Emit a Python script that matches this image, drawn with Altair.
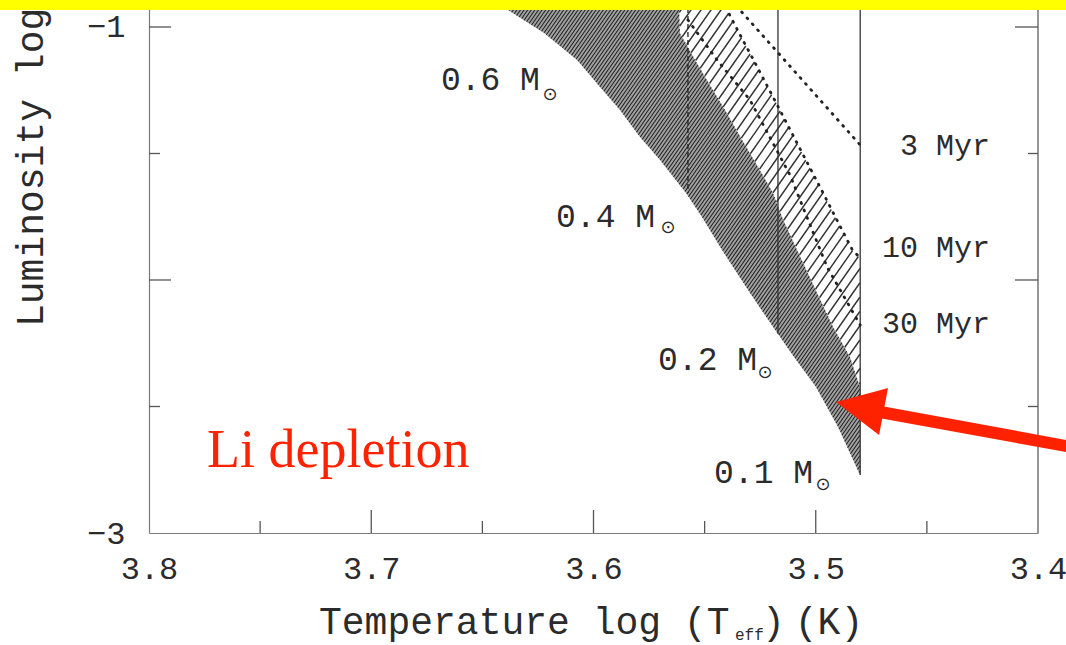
import numpy as np
import pandas as pd
import altair as alt

# ---------------- layout ----------------
W, H = 889, 533
Y_BOT, Y_TOP = -3.0, -0.8933
MONO = "Liberation Mono"
INK = "#2b2b2b"
RED = "#ff2200"

# ---------------- data (log Teff, log L) ----------------
# dark band (Li-depleted zone): rows of log L with left / right log Teff edges
dark_y = [-0.8933, -0.9328, -1.0237, -1.1304, -1.2372, -1.3281, -1.4348, -1.5257,
          -1.6561, -1.7510, -1.8814, -2.0514, -2.1858, -2.3043, -2.4229, -2.5810, -2.7708]
dark_left = [3.6443, 3.6385, 3.6223, 3.6074, 3.5971, 3.5881, 3.5791, 3.5701,
             3.5584, 3.5512, 3.5422, 3.5296, 3.5192, 3.5098, 3.4999, 3.4900, 3.4801]
dark_right = [3.5620, 3.5615, 3.5611, 3.5543, 3.5471, 3.5408, 3.5339, 3.5278,
              3.5192, 3.5152, 3.5084, 3.4994, 3.4922, 3.4846, 3.4801, 3.4801, 3.4800]

# light hatched band
light_y = [-0.8933, -0.9328, -1.0237, -1.1304, -1.2885, -1.4862, -1.6561,
           -1.7510, -1.8814, -1.9130, -2.0514, -2.1858, -2.3043, -2.4229]
light_left = [3.5620, 3.5615, 3.5611, 3.5543, 3.5435, 3.5305, 3.5192,
              3.5152, 3.5084, 3.5068, 3.4994, 3.4922, 3.4846, 3.4801]
light_right = [3.5422, 3.5399, 3.5345, 3.5280, 3.5185, 3.5068, 3.4967,
               3.4912, 3.4835, 3.4801, 3.4801, 3.4801, 3.4801, 3.4801]

# vertical evolutionary tracks
track_x = [3.5575, 3.5170, 3.4800]
track_top = [-0.8933, -0.8933, -0.8933]
track_bot = [-1.6561, -2.2134, -2.7708]
track_dash = ["dashed", "solid", "solid"]

# isochrones (dotted)
iso3_x = [3.5381, 3.4800]
iso3_y = [-0.8933, -1.4664]
iso10_x = [3.5422, 3.5399, 3.5345, 3.5280, 3.5185, 3.5068, 3.4967, 3.4912, 3.4835, 3.4800]
iso10_y = [-0.8933, -0.9328, -1.0237, -1.1304, -1.2885, -1.4862, -1.6561, -1.7510, -1.8814, -1.9130]
iso30_x = [3.5575, 3.5444, 3.5296, 3.5116, 3.4949, 3.4800]
iso30_y = [-0.9723, -1.1304, -1.2885, -1.5850, -1.9486, -2.1779]

# labels
mass_text = ["0.6 M", "0.4 M", "0.2 M", "0.1 M"]
mass_x = [3.6241, 3.5723, 3.5264, 3.5012]
mass_y = [-1.249, -1.7905, -2.3557, -2.8024]
sun_x = [3.6196, 3.5665, 3.5228, 3.4967]
sun_y = [-1.269, -1.795, -2.3676, -2.8103]

age_text = ["3 Myr", "10 Myr", "30 Myr"]
age_x = [3.4216, 3.4216, 3.4216]
age_y = [-1.506, -1.909, -2.2095]

li_text = ["Li depletion"]
li_x = [3.7739]
li_y = [-2.739]

# red arrow
head_x = [3.4909, 3.4715, 3.4675]
head_y = [-2.4822, -2.4364, -2.4269]
head_y2 = [-2.4822, -2.6126, -2.4269]
shaft_x = [3.4711]
shaft_y = [-2.5217]
shaft_x2 = [3.3834]
shaft_y2 = [-2.6625]

# ticks
x_major = [3.7, 3.6, 3.5]
x_minor = [3.75, 3.65, 3.55, 3.45]
y_major = [-1.0, -2.0]
y_minor = [-1.5, -2.5]
x_labels = [3.8, 3.7, 3.6, 3.5, 3.4]
y_labels = [-3, -2, -1]

# ---------------- helpers ----------------
def to_px_x(v):
    return (3.8 - v) / 0.4 * W


def to_px_y(v):
    return (Y_TOP - v) / (Y_TOP - Y_BOT) * H


def from_px_x(p):
    return 3.8 - p * 0.4 / W


def from_px_y(p):
    return Y_TOP - p * (Y_TOP - Y_BOT) / H


def hatch(ys, xl, xr, spacing, angle_deg):
    """diagonal hatch segments clipped to a band given by rows (style only)."""
    py = np.array([to_px_y(v) for v in ys])
    pl = np.array([to_px_x(v) for v in xl])
    pr = np.array([to_px_x(v) for v in xr])
    o = np.argsort(py)
    py, pl, pr = py[o], pl[o], pr[o]
    m = 1.0 / np.tan(np.radians(angle_deg))
    s = np.arange(py.min(), py.max() + 0.001, 0.25)
    L = np.interp(s, py, pl)
    R = np.interp(s, py, pr)
    cmin = float(np.min(L + m * s))
    cmax = float(np.max(R + m * s))
    rows = []
    for c in np.arange(cmin, cmax, spacing):
        xs = c - m * s
        idx = np.where((xs >= L) & (xs <= R))[0]
        if len(idx) < 2:
            continue
        br = np.where(np.diff(idx) > 1)[0]
        starts = np.r_[idx[0], idx[br + 1]]
        ends = np.r_[idx[br], idx[-1]]
        for a, b in zip(starts, ends):
            if b - a < 1:
                continue
            rows.append({"x1": from_px_x(xs[a]), "y1": from_px_y(s[a]),
                         "x2": from_px_x(xs[b]), "y2": from_px_y(s[b])})
    return pd.DataFrame(rows)


xscale = alt.Scale(domain=[3.4, 3.8], reverse=True, nice=False, zero=False)
yscale = alt.Scale(domain=[Y_BOT, Y_TOP], nice=False, zero=False)
xaxis = alt.Axis(values=x_labels, format=".1f", ticks=False, tickSize=0, grid=False,
                 domain=True, domainColor="#7a7a7a", domainWidth=1.2,
                 labelFont=MONO, labelFontSize=32, labelColor=INK, labelPadding=20,
                 labelFlush=False, labelOverlap=False, title="")
yaxis = alt.Axis(values=y_labels, format="d", ticks=False, tickSize=0, grid=False,
                 domain=True, domainColor="#7a7a7a", domainWidth=1.2,
                 labelFont=MONO, labelFontSize=32, labelColor=INK, labelPadding=24,
                 labelOverlap=False, title="")


def X(f):
    return alt.X(f, type="quantitative", scale=xscale, axis=xaxis)


def Y(f):
    return alt.Y(f, type="quantitative", scale=yscale, axis=yaxis)


one = pd.DataFrame({"a": [0]})
layers = []

# light band
light_df = pd.DataFrame({"y": light_y, "xl": light_left, "xr": light_right})
layers.append(alt.Chart(light_df).mark_area(orient="horizontal", color="white", opacity=1)
              .encode(y=Y("y"), x=X("xl"), x2=alt.X2("xr")))
layers.append(alt.Chart(hatch(light_y, light_left, light_right, 10.0, 55))
              .mark_rule(color="#333333", strokeWidth=1.4)
              .encode(x=X("x1"), y=Y("y1"), x2=alt.X2("x2"), y2=alt.Y2("y2")))

# dark band
dark_df = pd.DataFrame({"y": dark_y, "xl": dark_left, "xr": dark_right})
layers.append(alt.Chart(dark_df).mark_area(orient="horizontal", color="#a2a2a2", opacity=1)
              .encode(y=Y("y"), x=X("xl"), x2=alt.X2("xr")))
layers.append(alt.Chart(hatch(dark_y, dark_left, dark_right, 3.6, 55))
              .mark_rule(color="#222222", strokeWidth=1.1)
              .encode(x=X("x1"), y=Y("y1"), x2=alt.X2("x2"), y2=alt.Y2("y2")))

# tracks
tr = pd.DataFrame({"x": track_x, "y": track_top, "y2": track_bot, "d": track_dash})
layers.append(alt.Chart(tr[tr.d == "solid"]).mark_rule(color="#333333", strokeWidth=1.3)
              .encode(x=X("x"), y=Y("y"), y2=alt.Y2("y2")))
layers.append(alt.Chart(tr[tr.d == "dashed"]).mark_rule(color="#222222", strokeWidth=1.3,
                                                       strokeDash=[5, 3])
              .encode(x=X("x"), y=Y("y"), y2=alt.Y2("y2")))

# isochrones
iso = pd.concat([
    pd.DataFrame({"name": "3", "x": iso3_x, "y": iso3_y, "i": range(len(iso3_x))}),
    pd.DataFrame({"name": "10", "x": iso10_x, "y": iso10_y, "i": range(len(iso10_x))}),
    pd.DataFrame({"name": "30", "x": iso30_x, "y": iso30_y, "i": range(len(iso30_x))}),
])
layers.append(alt.Chart(iso).mark_line(color="#222222", strokeWidth=2.8, strokeDash=[1, 7],
                                       strokeCap="round")
              .encode(x=X("x"), y=Y("y"), detail="name:N", order="i:Q"))

# frame: right border and inward ticks
layers.append(alt.Chart(one).mark_rule(color="#6a6a6a", strokeWidth=1.4)
              .encode(x=alt.value(W), y=alt.value(0), y2=alt.value(H)))
tick_color = "#555555"
layers.append(alt.Chart(pd.DataFrame({"v": x_major})).mark_rule(color=tick_color, strokeWidth=1.3)
              .encode(x=X("v"), y=alt.value(H), y2=alt.value(H - 23)))
layers.append(alt.Chart(pd.DataFrame({"v": x_minor})).mark_rule(color=tick_color, strokeWidth=1.3)
              .encode(x=X("v"), y=alt.value(H), y2=alt.value(H - 12)))
layers.append(alt.Chart(pd.DataFrame({"v": y_major})).mark_rule(color=tick_color, strokeWidth=1.3)
              .encode(y=Y("v"), x=alt.value(0), x2=alt.value(22)))
layers.append(alt.Chart(pd.DataFrame({"v": y_minor})).mark_rule(color=tick_color, strokeWidth=1.3)
              .encode(y=Y("v"), x=alt.value(0), x2=alt.value(11)))
layers.append(alt.Chart(pd.DataFrame({"v": y_major})).mark_rule(color=tick_color, strokeWidth=1.3)
              .encode(y=Y("v"), x=alt.value(W), x2=alt.value(W - 23)))
layers.append(alt.Chart(pd.DataFrame({"v": y_minor})).mark_rule(color=tick_color, strokeWidth=1.3)
              .encode(y=Y("v"), x=alt.value(W), x2=alt.value(W - 10)))

# labels
mass_df = pd.DataFrame({"x": mass_x, "y": mass_y, "t": mass_text})
layers.append(alt.Chart(mass_df).mark_text(align="right", baseline="alphabetic", font=MONO,
                                           fontSize=33, color=INK)
              .encode(x=X("x"), y=Y("y"), text="t:N"))
sun_df = pd.DataFrame({"x": sun_x, "y": sun_y, "t": ["\u2299"] * len(sun_x)})
layers.append(alt.Chart(sun_df).mark_text(align="center", baseline="middle", font="DejaVu Sans",
                                          fontSize=18, color=INK)
              .encode(x=X("x"), y=Y("y"), text="t:N"))
age_df = pd.DataFrame({"x": age_x, "y": age_y, "t": age_text})
layers.append(alt.Chart(age_df).mark_text(align="right", baseline="alphabetic", font=MONO,
                                          fontSize=30, color=INK)
              .encode(x=X("x"), y=Y("y"), text="t:N"))
li_df = pd.DataFrame({"x": li_x, "y": li_y, "t": li_text})
layers.append(alt.Chart(li_df).mark_text(align="left", baseline="alphabetic",
                                         font="Liberation Serif", fontSize=54, color=RED)
              .encode(x=X("x"), y=Y("y"), text="t:N"))

# axis titles (with subscript)
layers.append(alt.Chart(one).mark_text(text="Luminosity log", angle=270, align="left",
                                       baseline="alphabetic", font=MONO, fontSize=38, color=INK)
              .encode(x=alt.value(-106), y=alt.value(327)))
layers.append(alt.Chart(one).mark_text(text="Temperature log (T", align="left",
                                       baseline="alphabetic", font=MONO, fontSize=38, color=INK)
              .encode(x=alt.value(170), y=alt.value(634)))
layers.append(alt.Chart(one).mark_text(text="eff", align="left", baseline="alphabetic",
                                       font=MONO, fontSize=16, color=INK)
              .encode(x=alt.value(586), y=alt.value(640)))
layers.append(alt.Chart(one).mark_text(text=")", align="left", baseline="alphabetic",
                                       font=MONO, fontSize=38, color=INK)
              .encode(x=alt.value(613), y=alt.value(634)))
layers.append(alt.Chart(one).mark_text(text="(K)", align="center", baseline="alphabetic",
                                       font=MONO, fontSize=38, color=INK)
              .encode(x=alt.value(680), y=alt.value(634)))

# red arrow
head_df = pd.DataFrame({"x": head_x, "y": head_y, "y2": head_y2})
layers.append(alt.Chart(head_df).mark_area(orient="vertical", color=RED, opacity=1)
              .encode(x=X("x"), y=Y("y"), y2=alt.Y2("y2")))
shaft_df = pd.DataFrame({"x": shaft_x, "y": shaft_y, "x2": shaft_x2, "y2": shaft_y2})
layers.append(alt.Chart(shaft_df).mark_rule(color=RED, strokeWidth=12, strokeCap="butt")
              .encode(x=X("x"), y=Y("y"), x2=alt.X2("x2"), y2=alt.Y2("y2")))

# yellow band on top
layers.append(alt.Chart(one).mark_rect(color="#ffff00", opacity=1)
              .encode(x=alt.value(-149), x2=alt.value(W + 28), y=alt.value(0), y2=alt.value(10)))

chart = (
    alt.layer(*layers)
    .properties(width=W, height=H,
                padding={"left": 149, "top": 0, "right": 28, "bottom": 112},
                autosize=alt.AutoSizeParams(type="none"),
                background="white")
    .configure_view(strokeWidth=0)
)

chart.save("out.html", embed_options={"renderer": "svg", "actions": False})
